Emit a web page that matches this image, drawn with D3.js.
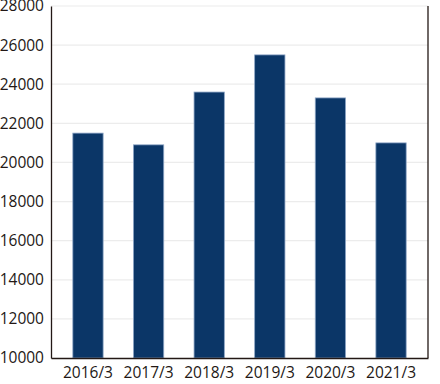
<!DOCTYPE html>
<html><head><meta charset="utf-8">
<script src="https://cdn.jsdelivr.net/npm/d3@7"></script>
<style>body{margin:0;background:#fff}svg{display:block}text{font-family:"Open Sans","Noto Sans",sans-serif}</style>
</head><body><svg id="c" width="440" height="384"></svg>
<script>
const categories = ["2016/3","2017/3","2018/3","2019/3","2020/3","2021/3"];
const values = [21500,20900,23600,25500,23300,21000];
const yTicks = [10000,12000,14000,16000,18000,20000,22000,24000,26000,28000];

const svg = d3.select("#c");
const L=51,R=428,T=6,B=358;
const x = d3.scaleBand().domain(categories).range([L,R]).paddingInner(0.5).paddingOuter(0.36);
const y = d3.scaleLinear().domain([10000,28000]).range([B,T]);

svg.append("g").selectAll("line").data(yTicks.slice(1)).join("line")
  .attr("x1",L).attr("x2",R).attr("y1",d=>y(d)).attr("y2",d=>y(d))
  .attr("stroke","#ececec").attr("stroke-width",1.2);

svg.append("g").selectAll("rect").data(values).join("rect")
  .attr("x",(d,i)=>x(categories[i])).attr("width",x.bandwidth())
  .attr("y",d=>y(d)).attr("height",d=>B-y(d))
  .attr("fill","#0b3667").attr("stroke","#8ea6c6").attr("stroke-width",0.8);

const yAxis = svg.append("g").attr("transform",`translate(${L},0)`)
  .call(d3.axisLeft(y).tickValues(yTicks).tickFormat(d3.format("d")).tickSize(0).tickPadding(7));
yAxis.select(".domain").attr("stroke","#231815").attr("stroke-width",1.3);
yAxis.selectAll("text").attr("font-size",15.5).attr("fill","#231815");

const xAxis = svg.append("g").attr("transform",`translate(0,${B})`)
  .call(d3.axisBottom(x).tickSize(0).tickPadding(9));
xAxis.select(".domain").attr("stroke","#231815").attr("stroke-width",1.3);
xAxis.selectAll("text").attr("font-size",15.5).attr("fill","#231815");

svg.append("line").attr("x1",R).attr("x2",R).attr("y1",T).attr("y2",B)
  .attr("stroke","#231815").attr("stroke-width",1.3);
</script></body></html>
